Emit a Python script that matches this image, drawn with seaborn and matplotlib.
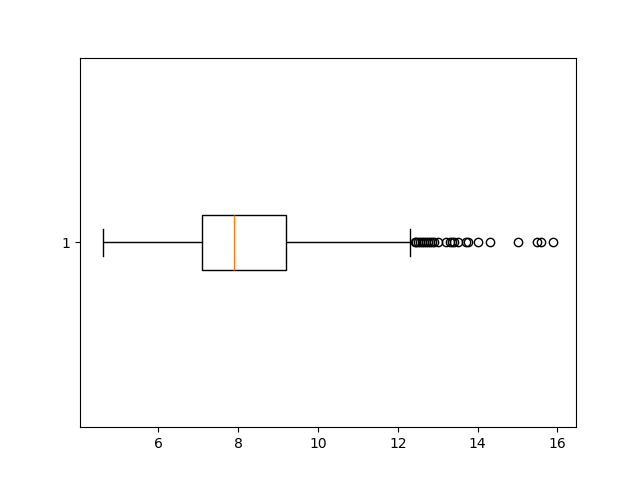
import numpy as np
import pandas as pd
import matplotlib
matplotlib.use("Agg")
import matplotlib.pyplot as plt
import seaborn as sns

# values (min 4.6, Q1 7.1, median 7.9, Q3 9.2, whisker 12.3)
lower_tail = [4.6, 5.0, 5.3, 5.5, 5.7, 5.8, 5.9, 6.0, 6.1, 6.2,
              6.2, 6.3, 6.4, 6.4, 6.5, 6.5, 6.6, 6.6, 6.7, 6.7,
              6.8, 6.8, 6.8, 6.9, 6.9, 6.9, 7.0, 7.0, 7.0, 7.05]
lower_mid = [7.1, 7.1, 7.15, 7.2, 7.2, 7.25, 7.3, 7.3, 7.35, 7.4, 7.4,
             7.45, 7.5, 7.5, 7.55, 7.6, 7.6, 7.6, 7.65, 7.7, 7.7,
             7.7, 7.75, 7.75, 7.8, 7.8, 7.8, 7.85, 7.85, 7.9]
upper_mid = [7.9, 7.95, 8.0, 8.0, 8.05, 8.1, 8.1, 8.15, 8.2, 8.25, 8.3,
             8.3, 8.35, 8.4, 8.45, 8.5, 8.55, 8.6, 8.6, 8.65, 8.7,
             8.75, 8.8, 8.85, 8.9, 8.95, 9.0, 9.05, 9.1, 9.15]
upper_tail = [9.2, 9.6, 10.2, 10.9, 11.6, 12.3]
outliers = [12.42, 12.45, 12.5, 12.55, 12.6, 12.65, 12.7, 12.75, 12.8, 12.85,
            12.9, 13.0, 13.2, 13.3, 13.35, 13.4, 13.5, 13.7, 13.75,
            14.0, 14.3, 15.0, 15.5, 15.6, 15.9]

values = lower_tail + lower_mid + upper_mid + upper_tail + outliers
labels = ["1"] * len(values)

fig, ax = plt.subplots(figsize=(6.4, 4.8), dpi=100)

sns.boxplot(x=values, y=labels, orient="h", ax=ax,
            width=0.15, color="white", linecolor="black", linewidth=1,
            fliersize=6, capwidths=0.075,
            medianprops={"color": "#ff7f0e"},
            flierprops={"marker": "o", "markerfacecolor": "none",
                        "markeredgecolor": "black"})

ax.set_xlabel("")
ax.set_ylabel("")

plt.savefig("out.png")
